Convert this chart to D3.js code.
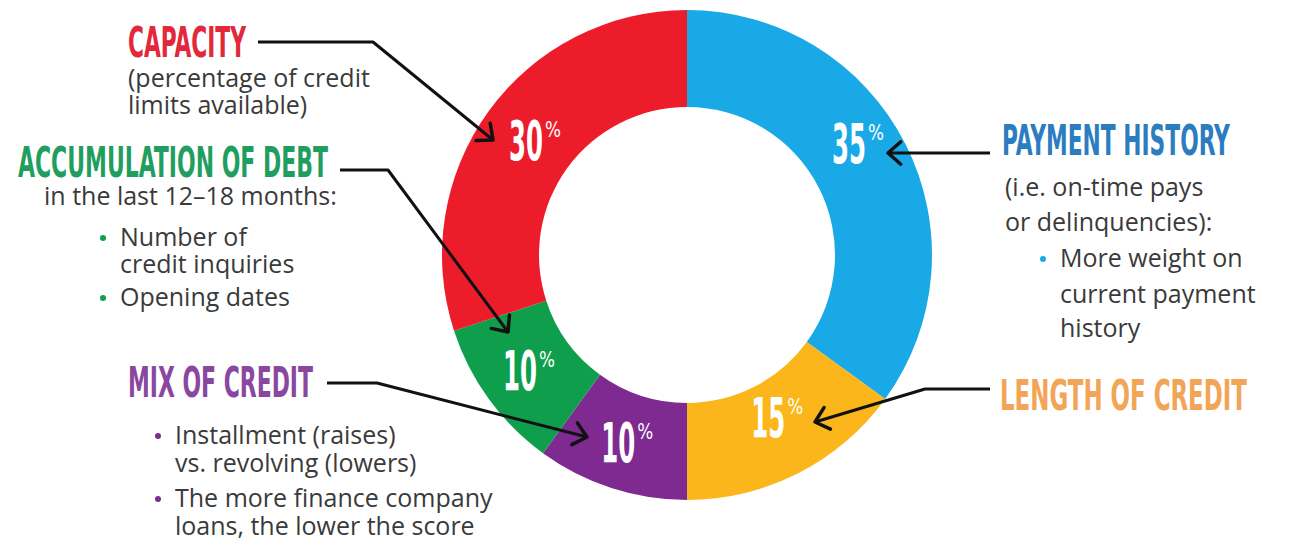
<!DOCTYPE html>
<html>
<head>
<meta charset="utf-8">
<script src="https://cdn.jsdelivr.net/npm/d3@7"></script>
<style>
  body { margin: 0; background: #fff; }
  svg { display: block; }
</style>
</head>
<body>
<svg id="chart" width="1296" height="541"></svg>
<script>
// credit score factors, clockwise from 12 o'clock
const factors = ["payment", "length", "mix", "debt", "capacity"];
const shares = [35, 15, 10, 10, 30];
const titles = ["PAYMENT HISTORY", "LENGTH OF CREDIT", "MIX OF CREDIT", "ACCUMULATION OF DEBT", "CAPACITY"];
const paymentNotes = ["(i.e. on-time pays", "or delinquencies):", "• More weight on", "  current payment", "  history"];
const lengthNotes = [];
const mixNotes = ["• Installment (raises)", "  vs. revolving (lowers)", "• The more finance company", "  loans, the lower the score"];
const debtNotes = ["in the last 12–18 months:", "• Number of", "  credit inquiries", "• Opening dates"];
const capacityNotes = ["(percentage of credit", "limits available)"];
const notes = [paymentNotes, lengthNotes, mixNotes, debtNotes, capacityNotes];

const sliceColor = d3.scaleOrdinal()
  .domain(factors)
  .range(["#19a9e7", "#fab61b", "#7e2a91", "#0f9f4c", "#ec1c2b"]);
const titleColor = d3.scaleOrdinal()
  .domain(factors)
  .range(["#2c7dbf", "#f2a457", "#8a47a0", "#1f9e60", "#e2283a"]);

const width = 1296, height = 541;
const cx = 687, cy = 255;
const outerR = 245, innerR = 148;
const condensed = "'Liberation Sans Narrow', 'DejaVu Sans Condensed', sans-serif";

// hand placement of the call-outs around the ring
const layout = {
  payment:  { tx: 1002, ty: 155, tw: 228, px: 1005, bx: 1040, ix: 1060, ys: [196, 231, 267, 303, 337],
              leader: [[990, 153], [888, 153]], nudge: [-5, -23] },
  length:   { tx: 1000, ty: 410, tw: 247, px: 1000, bx: 0, ix: 0, ys: [],
              leader: [[990, 389], [925, 389], [815, 422]], nudge: [0, -13] },
  mix:      { tx: 128, ty: 397, tw: 185, px: 128, bx: 155, ix: 175, ys: [444, 472, 507, 535],
              leader: [[327, 383], [377, 383], [587, 437]], nudge: [0, 0] },
  debt:     { tx: 18, ty: 177, tw: 310, px: 44, bx: 100, ix: 120, ys: [205, 246, 273, 306],
              leader: [[340, 170], [388, 170], [508, 332]], nudge: [0, 0] },
  capacity: { tx: 128, ty: 57, tw: 118, px: 128, bx: 0, ix: 0, ys: [87, 114],
              leader: [[258, 42], [373, 42], [493, 140]], nudge: [6, 0] }
};

// squeeze a text horizontally to a given width
const fitWidth = (sel, w) => {
  sel.each(function (d) {
    const t = d3.select(this);
    const target = typeof w === "function" ? w(d) : w;
    const natural = this.getComputedTextLength();
    const x = +t.attr("x"), y = +t.attr("y");
    t.attr("x", 0).attr("y", 0)
      .attr("transform", `translate(${x},${y}) scale(${target / natural},1)`);
  });
};

const svg = d3.select("#chart");

const pie = d3.pie().sort(null).value(d => d.share);
const arcs = pie(factors.map((f, i) => ({ key: f, share: shares[i], title: titles[i], notes: notes[i] })));

const arc = d3.arc().innerRadius(innerR).outerRadius(outerR);
const labelArc = d3.arc().innerRadius((innerR + outerR) / 2).outerRadius((innerR + outerR) / 2);

const ring = svg.append("g").attr("transform", `translate(${cx},${cy})`);

ring.selectAll("path")
  .data(arcs)
  .join("path")
  .attr("d", arc)
  .attr("fill", d => sliceColor(d.data.key));

// percentage labels
const pct = ring.selectAll("g.pct")
  .data(arcs)
  .join("g")
  .attr("class", "pct")
  .attr("transform", d => {
    const [x, y] = labelArc.centroid(d);
    const n = layout[d.data.key].nudge;
    return `translate(${x + n[0]},${y + n[1] + 20})`;
  });

pct.append("text")
  .attr("x", -25)
  .attr("y", 0)
  .attr("font-family", condensed)
  .attr("font-weight", "bold")
  .attr("font-size", 55)
  .attr("fill", "#fff")
  .text(d => d.data.share)
  .call(fitWidth, 34);

pct.append("text")
  .attr("x", 11)
  .attr("y", -23)
  .attr("font-family", condensed)
  .attr("font-size", 21)
  .attr("fill", "#fff")
  .text("%")
  .call(fitWidth, 16);

// call-outs
const callouts = svg.selectAll("g.callout")
  .data(arcs)
  .join("g")
  .attr("class", "callout");

callouts.append("text")
  .attr("x", d => layout[d.data.key].tx)
  .attr("y", d => layout[d.data.key].ty)
  .attr("font-family", condensed)
  .attr("font-weight", "bold")
  .attr("font-size", 42)
  .attr("fill", d => titleColor(d.data.key))
  .text(d => d.data.title)
  .call(fitWidth, d => layout[d.data.key].tw);

callouts.each(function (d) {
  const g = d3.select(this);
  const L = layout[d.data.key];
  d.data.notes.forEach((line, i) => {
    const y = L.ys[i];
    if (line.startsWith("•")) {
      g.append("circle")
        .attr("cx", L.bx + 3)
        .attr("cy", y - 8)
        .attr("r", 3)
        .attr("fill", sliceColor(d.data.key));
      g.append("text").attr("x", L.ix).attr("y", y).attr("class", "note").text(line.slice(2));
    } else if (line.startsWith("  ")) {
      g.append("text").attr("x", L.ix).attr("y", y).attr("class", "note").text(line.slice(2));
    } else {
      g.append("text").attr("x", L.px).attr("y", y).attr("class", "note").text(line);
    }
  });

  // leader line with open arrow head
  const pts = L.leader;
  g.append("path")
    .attr("d", d3.line()(pts))
    .attr("fill", "none")
    .attr("stroke", "#111")
    .attr("stroke-width", 3)
    .attr("stroke-linejoin", "round");
  const [x0, y0] = pts[pts.length - 2];
  const [x1, y1] = pts[pts.length - 1];
  const a = Math.atan2(y1 - y0, x1 - x0);
  const len = 17, spread = 0.72;
  const head = [
    [x1 - len * Math.cos(a - spread), y1 - len * Math.sin(a - spread)],
    [x1, y1],
    [x1 - len * Math.cos(a + spread), y1 - len * Math.sin(a + spread)]
  ];
  g.append("path")
    .attr("d", d3.line()(head))
    .attr("fill", "none")
    .attr("stroke", "#111")
    .attr("stroke-width", 3.5)
    .attr("stroke-linecap", "round")
    .attr("stroke-linejoin", "round");
});

svg.selectAll("text.note")
  .attr("font-family", "'Open Sans', sans-serif")
  .attr("font-size", 25)
  .attr("fill", "#3a3a3a");
</script>
</body>
</html>
